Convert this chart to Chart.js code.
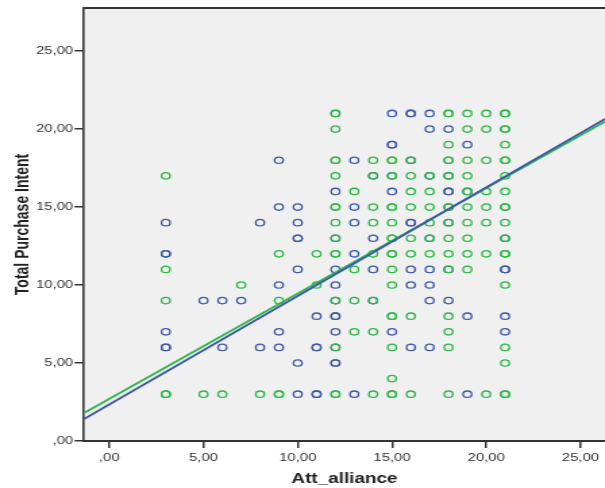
<!DOCTYPE html>
<html>
<head>
<meta charset="utf-8">
<script src="https://cdn.jsdelivr.net/npm/chart.js@4/dist/chart.umd.min.js"></script>
<style>
  html, body { margin: 0; padding: 0; background: #ffffff; overflow: hidden; }
  /* the original picture is stretched sideways, so the canvas is too */
  #wrap { width: 448px; height: 488px; transform: scaleX(1.3504); transform-origin: 0 0; }
</style>
</head>
<body>
<div id="wrap"><canvas id="myChart" width="448" height="488"></canvas></div>
<script>
// Att_alliance values (x) and the Total Purchase Intent values found at each one
const attAlliance = [3, 5, 6, 7, 8, 9, 10, 11, 12, 13, 14, 15, 16, 17, 18, 19, 20, 21];

const intentBlue = [
    [14, 12, 12, 7, 6, 6],
    [9],
    [9, 6],
    [9],
    [14, 6],
    [18, 15, 10, 7, 6],
    [15, 14, 13, 13, 11, 5, 3],
    [8, 6, 6, 3, 3],
    [16, 13, 11, 10, 9, 8, 8, 7, 6, 5, 5],
    [18, 15, 14, 12, 3],
    [17, 13, 11, 9],
    [21, 19, 19, 17, 16, 7],
    [21, 21, 18, 14, 14, 11, 10, 6],
    [21, 20, 17, 13, 11, 10, 9, 6],
    [20, 17, 16, 16, 15, 14, 11, 9],
    [19, 16, 8, 3],
    [],
    [13, 11, 11, 8, 7]
];

const intentGreen = [
    [17, 11, 9, 3, 3],
    [3],
    [3],
    [10],
    [3],
    [12, 9, 3, 3],
    [],
    [12, 10],
    [21, 21, 20, 18, 18, 17, 15, 15, 14, 13, 12, 12, 9, 6, 3, 3],
    [16, 11, 9, 7],
    [18, 17, 15, 14, 12, 9, 7, 3],
    [18, 18, 17, 15, 15, 14, 13, 13, 12, 12, 11, 10, 8, 8, 6, 4, 3, 3],
    [18, 17, 16, 15, 13, 12, 8, 3],
    [17, 16, 15, 14, 13, 12],
    [21, 21, 19, 18, 18, 17, 15, 14, 13, 12, 11, 8, 7, 6, 3],
    [21, 20, 18, 17, 16, 15, 14, 13, 12, 11],
    [21, 20, 18, 16, 15, 14, 12, 3],
    [21, 21, 20, 20, 19, 18, 18, 17, 16, 15, 15, 14, 13, 12, 12, 10, 6, 5, 3, 3]
];

// fit line end points, read at the left and right edge of the plot
const fitBlue = [{x: -1.34, y: 1.41}, {x: 26.3, y: 20.64}];
const fitGreen = [{x: -1.34, y: 1.79}, {x: 26.3, y: 20.47}];

const xTicks = [0, 5, 10, 15, 20, 25];
const xTickLabels = [',00', '5,00', '10,00', '15,00', '20,00', '25,00'];
const yTicks = [0, 5, 10, 15, 20, 25];
const yTickLabels = [',00', '5,00', '10,00', '15,00', '20,00', '25,00'];

const BLUE = '#3e58ac';
const GREEN = '#2eb848';
const FONT = "'Liberation Sans', Arial, sans-serif";

function toPoints(lists) {
    let pts = [];
    lists.forEach(function(vals, i) {
        vals.forEach(function(v) {
            pts.push({x: attAlliance[i], y: v});
        });
    });
    return pts;
}

const plotFrame = {
    id: 'plotFrame',
    beforeDraw: function(chart) {
        const a = chart.chartArea;
        const ctx = chart.ctx;
        ctx.save();
        ctx.fillStyle = '#eff0ef';
        ctx.fillRect(a.left, a.top, a.right - a.left, a.bottom - a.top);
        ctx.restore();
    },
    afterDraw: function(chart) {
        const a = chart.chartArea;
        const ctx = chart.ctx;
        ctx.save();
        ctx.strokeStyle = '#333333';
        ctx.lineWidth = 2;
        ctx.beginPath();
        ctx.moveTo(a.left, a.top);
        ctx.lineTo(a.right, a.top);
        ctx.stroke();
        ctx.restore();
    }
};

function doChart() {
    var ctx = document.getElementById('myChart').getContext('2d');
    var chart = new Chart(ctx, {
        type: 'scatter',
        data: {
            datasets: [
                {
                    type: 'line', data: fitBlue, borderColor: BLUE, borderWidth: 1.8,
                    pointRadius: 0, fill: false
                },
                {
                    type: 'line', data: fitGreen, borderColor: GREEN, borderWidth: 1.8,
                    pointRadius: 0, fill: false
                },
                {
                    data: toPoints(intentGreen), pointStyle: 'circle', pointRadius: 3.2,
                    borderColor: GREEN, backgroundColor: 'rgba(0,0,0,0)', borderWidth: 1.3
                },
                {
                    data: toPoints(intentBlue), pointStyle: 'circle', pointRadius: 3.2,
                    borderColor: BLUE, backgroundColor: 'rgba(0,0,0,0)', borderWidth: 1.3
                }
            ]
        },
        options: {
            responsive: false,
            devicePixelRatio: 1,
            animation: false,
            layout: { autoPadding: false, padding: { top: 8, right: 0, left: 0, bottom: 0 } },
            plugins: {
                legend: { display: false },
                tooltip: { enabled: false }
            },
            scales: {
                x: {
                    type: 'linear',
                    min: -1.34,
                    max: 26.3,
                    afterBuildTicks: function(scale) {
                        scale.ticks = xTicks.map(function(v) { return {value: v}; });
                    },
                    afterFit: function(scale) {
                        scale.height = 47;
                        scale.paddingLeft = 0;
                        scale.paddingRight = 0;
                    },
                    border: { display: true, color: '#333333', width: 2 },
                    grid: { drawOnChartArea: false, drawTicks: true, tickLength: 7, tickColor: '#333333', lineWidth: 1.5 },
                    ticks: {
                        padding: 3,
                        maxRotation: 0,
                        color: '#333333',
                        font: { family: FONT, size: 11 },
                        callback: function(v) { return xTickLabels[xTicks.indexOf(v)]; }
                    },
                    title: {
                        display: true,
                        text: 'Att_alliance',
                        color: '#222222',
                        font: { family: FONT, size: 14, weight: 'bold' },
                        padding: { top: 0, bottom: 0 }
                    }
                },
                y: {
                    type: 'linear',
                    min: 0,
                    max: 27.76,
                    afterBuildTicks: function(scale) {
                        scale.ticks = yTicks.map(function(v) { return {value: v}; });
                    },
                    afterFit: function(scale) {
                        scale.width = 62.2;
                        scale.paddingTop = 0;
                        scale.paddingBottom = 0;
                    },
                    border: { display: true, color: '#333333', width: 1.6 },
                    grid: { drawOnChartArea: false, drawTicks: true, tickLength: 7, tickColor: '#333333', lineWidth: 1.5 },
                    ticks: {
                        padding: 1,
                        color: '#333333',
                        font: { family: FONT, size: 11 },
                        callback: function(v) { return yTickLabels[yTicks.indexOf(v)]; }
                    },
                    title: {
                        display: true,
                        text: 'Total Purchase Intent',
                        color: '#222222',
                        font: { family: FONT, size: 14, weight: 'bold' },
                        padding: { top: 8.6, bottom: 0 }
                    }
                }
            }
        },
        plugins: [plotFrame]
    });
}

doChart();
</script>
</body>
</html>
